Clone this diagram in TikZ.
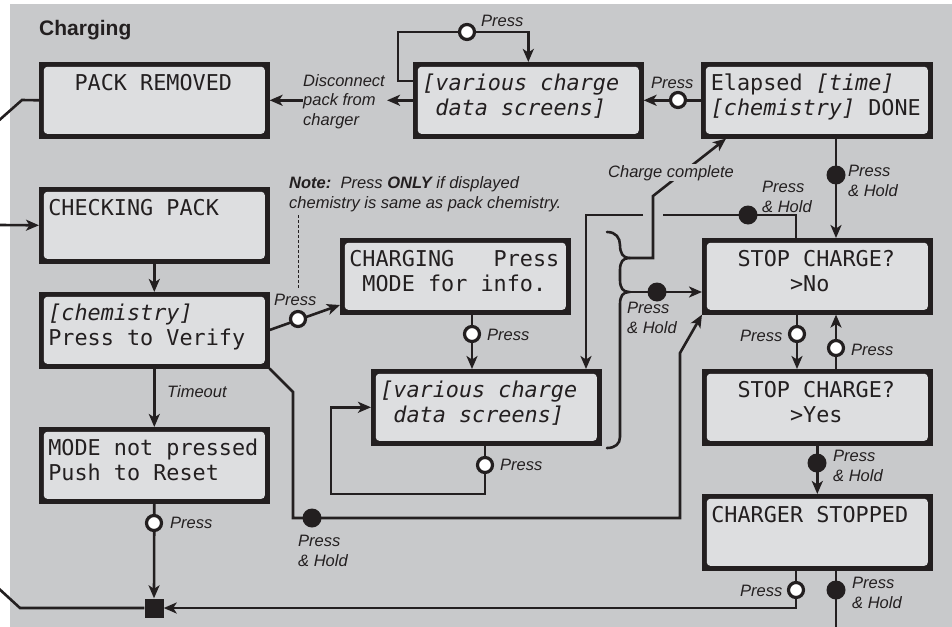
\documentclass[tikz,border=0pt]{standalone}
\usepackage{fontspec}
\setmainfont{Liberation Sans}
\newfontfamily\lcdfont{DejaVu Sans Mono}
\newfontfamily\lblfont{Liberation Sans}
\usetikzlibrary{arrows.meta}
\definecolor{panel}{RGB}{200,201,203}
\definecolor{lcdfill}{RGB}{221,222,224}
\definecolor{ink}{RGB}{35,31,32}
\newcommand\lcdl[2]{\spaceskip=\fontcharwd\font`M\relax\xspaceskip=\spaceskip
  \hbox{\rule{0pt}{20pt}#1}\\\hbox{#2\rule[-15pt]{0pt}{0pt}}}
\begin{document}
\begin{tikzpicture}[x=1pt,y=-1pt,
  lcd/.style={anchor=north west, minimum width=230pt, minimum height=76pt,
    inner sep=0pt, text width=212pt, align=left, text=ink,
    font=\lcdfont\fontsize{21.8pt}{25pt}\selectfont,
    draw=ink, line width=0.6pt,
    path picture={
      \fill[ink] (path picture bounding box.south west) rectangle (path picture bounding box.north east);
      \fill[lcdfill, rounded corners=3.5pt] ([shift={(4.5pt,4.5pt)}]path picture bounding box.south west)
        rectangle ([shift={(-4.5pt,-4.5pt)}]path picture bounding box.north east);}},
  wire/.style={draw=ink, line width=2.6pt},
  arr/.style={-{Stealth[length=13pt,width=11pt,inset=3.5pt]}},
  opencirc/.style={circle, draw=ink, fill=white, line width=3.2pt, minimum size=15pt, inner sep=0pt},
  dotc/.style={circle, fill=ink, minimum size=19pt, inner sep=0pt},
  sqnode/.style={rectangle, fill=ink, minimum size=19pt, inner sep=0pt},
  lbl/.style={font=\lblfont\itshape\fontsize{16.5pt}{19.5pt}\selectfont, inner sep=0pt, text=ink, anchor=base west, align=left},
]
\useasboundingbox (0,0) rectangle (952,626);
\fill[panel] (10,4) rectangle (960,630);

\node[font=\lblfont\bfseries\fontsize{21pt}{24pt}\selectfont, text=ink, inner sep=0pt, anchor=base west] (title) at (39,36) {Charging};

% LCD boxes
\node[lcd] (packrem) at (39,62) {\lcdl{~~PACK REMOVED}{}};
\node[lcd] (various1) at (413,62) {\lcdl{\textit{[various charge}}{\textit{~data screens]}}};
\node[lcd, minimum width=231pt] (elapsed) at (701,62) {\lcdl{Elapsed \textit{[time]}}{\textit{[chemistry]} DONE}};
\node[lcd] (checking) at (39,187) {\lcdl{CHECKING PACK}{}};
\node[lcd] (chem) at (39,292) {\lcdl{\textit{[chemistry]}}{Press to Verify}};
\node[lcd] (modenp) at (39,427) {\lcdl{MODE not pressed}{Push to Reset}};
\node[lcd] (charging) at (340,238) {\lcdl{CHARGING~~~Press}{~MODE for info.}};
\node[lcd] (various2) at (371,369) {\lcdl{\textit{[various charge}}{\textit{~data screens]}}};
\node[lcd] (stopno) at (702,238) {\lcdl{~~STOP CHARGE?}{~~~~~~>No}};
\node[lcd] (stopyes) at (702,369) {\lcdl{~~STOP CHARGE?}{~~~~~~>Yes}};
\node[lcd] (stopped) at (702,494) {\lcdl{CHARGER STOPPED}{}};

\node[sqnode] (sq) at (154,608) {};
\coordinate (entryB) at (0,225);
\coordinate (exitA) at (-4,123);
\coordinate (exitC) at (-4,586);
\coordinate (exitD) at (836,632);
\coordinate (tipA) at (629,258);
\coordinate (tipB) at (629,292);

% labels
\node[lbl] (lpTop) at (481,27) {Press};
\node[lbl] (lpEl) at (651,88) {Press};
\node[lbl] (ldisc) at (303,125) {Disconnect\\pack from\\charger};
\node[lbl] (note) at (289,208) {\textbf{Note:}\ \ Press \textbf{ONLY} if displayed\\chemistry is same as pack chemistry.};
\node[lbl] (lphEl) at (848,196) {Press\\\& Hold};
\node[lbl] (lphNo) at (762,212) {Press\\\& Hold};
\node[lbl] (lpChem) at (274,305) {Press};
\node[lbl] (ltime) at (167,397) {Timeout};
\node[lbl] (lpChg) at (487,340) {Press};
\node[lbl] (lphBr) at (627,333) {Press\\\& Hold};
\node[lbl] (lpNoY) at (740,341) {Press};
\node[lbl] (lpYN) at (851,355) {Press};
\node[lbl] (lpVar) at (500,470) {Press};
\node[lbl] (lpMode) at (170,528) {Press};
\node[lbl] (lphBot) at (298,566) {Press\\\& Hold};
\node[lbl] (lphYes) at (833,481) {Press\\\& Hold};
\node[lbl] (lpStop) at (740,596) {Press};
\node[lbl] (lphStop) at (852,608) {Press\\\& Hold};

% connectors
\draw[wire,arr] (various1.north west |- 0,81) -| (398,32) -| (various1.north);
\draw[wire,arr] (elapsed.west) -- (various1.east);
\draw[wire,arr] (various1.west) -- ([xshift=2pt]various1.west -| ldisc.east);
\draw[wire,arr] (ldisc.west |- packrem.east) -- (packrem.east);
\draw[wire] (packrem.west) -- (22,100) -- (exitA);
\draw[wire,arr] (entryB) -- (checking.west);
\draw[wire,arr] (checking.south) -- (chem.north);
\draw[wire,arr] (chem.east |- 0,330) -- (charging.west |- 0,305);
\draw[ink, line width=1pt, dash pattern=on 3pt off 2pt] (298,215) -- (298,289);
\draw[wire,arr] (chem.south) -- (modenp.north);
\draw[wire,arr] (modenp.south) -- (sq.north);
\draw[wire] (sq.west) -- (20,608) -- (exitC);
\draw[wire,arr] (stopped.south -| 796,0) |- (sq.east);
\draw[wire] (stopped.south -| 836,0) -- (exitD);
\draw[wire,arr] (stopyes.south) -- (stopped.north);
\draw[wire,arr] (stopno.south -| 797,0) -- (stopyes.north -| 797,0);
\draw[wire,arr] (stopyes.north -| 836,0) -- (stopno.south -| 836,0);
\draw[wire,arr] (elapsed.south -| 836,0) -- (stopno.north -| 836,0);
\draw[wire,arr] (stopno.north -| 796,0) |- (663,215) (643,215) -| (various2.north -| 586,0);
\draw[wire,arr] (charging.south -| 472,0) -- (various2.north -| 472,0);
\draw[wire,arr] (various2.south -| 485,0) |- (331,494) |- (various2.west);
\draw[wire,arr] (chem.south east) -- (293,392) -- (293,518) -- (680,518) -- (680,353) -- (stopno.south west);
% brace
\draw[wire, line cap=round] (607,232) .. controls (616,232) and (620,238) .. (620,245)
  .. controls (620,253) and (623,258) .. (tipA)
  .. controls (623,258) and (620,262) .. (620,270) -- (620,280)
  .. controls (620,288) and (623,292) .. (tipB)
  .. controls (623,292) and (620,296) .. (620,304) -- (620,437)
  .. controls (620,444) and (615,448) .. (607,448);
\draw[wire,arr] (tipA) -- (653,258) -- (653,196) -- (elapsed.south west -| 726,0);
\draw[wire,arr] (tipB) -- (stopno.west |- tipB);
\node[lbl, fill=panel, inner sep=1pt] (lcc) at (607,177) {Charge complete};

% circles
\node[opencirc] (c1) at (467,32) {};
\node[opencirc] (c2) at (678,100) {};
\node[opencirc] (c3) at (298,319) {};
\node[dotc] (d1) at (836,175) {};
\node[dotc] (d2) at (748,215) {};
\node[dotc] (d3) at (657,292) {};
\node[opencirc] (c4) at (472,334) {};
\node[opencirc] (c5) at (797,334) {};
\node[opencirc] (c6) at (836,348) {};
\node[opencirc] (c7) at (485,465) {};
\node[opencirc] (c8) at (154,523) {};
\node[dotc] (d4) at (312,518) {};
\node[dotc] (d5) at (817,463) {};
\node[opencirc] (c9) at (796,590) {};
\node[dotc] (d6) at (836,590) {};
\end{tikzpicture}
\end{document}
